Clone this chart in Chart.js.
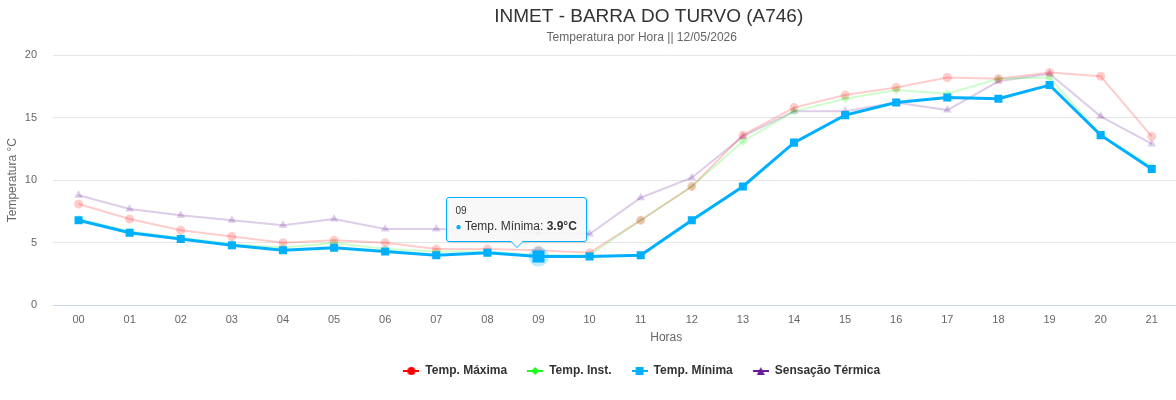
<!DOCTYPE html>
<html>
<head>
<meta charset="utf-8">
<script src="https://cdn.jsdelivr.net/npm/chart.js@4"></script>
<style>
    body { margin: 0; background: #fff; overflow: hidden; }
    #wrap { position: relative; width: 1176px; height: 400px; overflow: hidden; }
    #inner { position: relative; width: 1288px; height: 400px; }
    #tip {
        position: absolute;
        display: none;
        background: rgba(247, 247, 247, 0.9);
        border: 1px solid #00b0ff;
        border-radius: 3px;
        padding: 7px 9px 8px 8px;
        font-family: 'Liberation Sans', Arial, sans-serif;
        color: #333;
        white-space: nowrap;
        box-shadow: 1px 1px 2px rgba(0,0,0,0.12);
        pointer-events: none;
    }
    #tip .head { font-size: 10px; margin-bottom: 3px; }
    #tip .body { font-size: 12px; }
    #tip .dot { color: #00b0ff; font-size: 10px; }
    #tip::before, #tip::after {
        content: '';
        position: absolute;
        left: 50%;
        border-style: solid;
        border-color: transparent;
    }
    #tip::before { bottom: -7px; margin-left: -7px; border-width: 7px 7px 0 7px; border-top-color: #00b0ff; }
    #tip::after { bottom: -6px; margin-left: -6px; border-width: 6px 6px 0 6px; border-top-color: #f7f7f7; }
</style>
</head>
<body>
<div id="wrap">
  <div id="inner">
    <canvas id="tempChart"></canvas>
    <div id="tip"></div>
  </div>
</div>
<script>
// o eixo vai de 00 a 23, os dados só até 21
const horas = ['00','01','02','03','04','05','06','07','08','09','10','11','12','13','14','15','16','17','18','19','20','21','22','23'];
const tempMaxima = [8.1, 6.9, 6.0, 5.5, 5.0, 5.2, 5.0, 4.5, 4.5, 4.4, 4.2, 6.8, 9.5, 13.6, 15.8, 16.8, 17.4, 18.2, 18.1, 18.6, 18.3, 13.5];
const tempInst = [6.9, 5.9, 5.4, 4.9, 4.6, 5.0, 4.5, 4.3, 4.3, 4.0, 4.0, 6.8, 9.5, 13.1, 15.5, 16.5, 17.2, 16.9, 18.1, 18.2, 13.6, 11.1];
const tempMinima = [6.8, 5.8, 5.3, 4.8, 4.4, 4.6, 4.3, 4.0, 4.2, 3.9, 3.9, 4.0, 6.8, 9.5, 13.0, 15.2, 16.2, 16.6, 16.5, 17.6, 13.6, 10.9];
const sensacao = [8.8, 7.7, 7.2, 6.8, 6.4, 6.9, 6.1, 6.1, 6.0, 5.8, 5.7, 8.6, 10.2, 13.5, 15.5, 15.5, 16.2, 15.6, 17.9, 18.5, 15.1, 12.9];
const yTicks = [0, 5, 10, 15, 20];

const FONT = "'Liberation Sans', Arial, sans-serif";

// pequeno ícone de legenda: linha com marcador no meio
function legendIcon(color, style) {
    const c = document.createElement('canvas');
    c.width = 16; c.height = 12;
    const ctx = c.getContext('2d');
    ctx.strokeStyle = color;
    ctx.fillStyle = color;
    ctx.lineWidth = 2;
    ctx.beginPath(); ctx.moveTo(0, 6); ctx.lineTo(16, 6); ctx.stroke();
    ctx.beginPath();
    if (style === 'circle') ctx.arc(8, 6, 4, 0, Math.PI * 2);
    if (style === 'diamond') { ctx.moveTo(8, 2); ctx.lineTo(12, 6); ctx.lineTo(8, 10); ctx.lineTo(4, 6); ctx.closePath(); }
    if (style === 'square') ctx.rect(4, 2, 8, 8);
    if (style === 'triangle') { ctx.moveTo(8, 2); ctx.lineTo(12, 10); ctx.lineTo(4, 10); ctx.closePath(); }
    ctx.fill();
    return c;
}

const legendItems = [
    { text: 'Temp. Máxima', icon: legendIcon('#ff0000', 'circle') },
    { text: 'Temp. Inst.', icon: legendIcon('#1aff1a', 'diamond') },
    { text: 'Temp. Mínima', icon: legendIcon('#00b0ff', 'square') },
    { text: 'Sensação Térmica', icon: legendIcon('#6a1b9a', 'triangle') }
];

const haloPlugin = {
    id: 'halo',
    beforeDatasetDraw(chart, args) {
        if (args.index !== 2) return;
        const ctx = chart.ctx;
        chart.getActiveElements().forEach(a => {
            if (a.datasetIndex !== 2) return;
            ctx.save();
            ctx.fillStyle = 'rgba(0, 176, 255, 0.25)';
            ctx.beginPath();
            ctx.arc(a.element.x, a.element.y, 10, 0, Math.PI * 2);
            ctx.fill();
            ctx.restore();
        });
    }
};

// o título principal fica um pouco à direita do subtítulo no original
const titleShift = {
    id: 'titleShift',
    afterLayout(chart) {
        if (chart.titleBlock) {
            chart.titleBlock.left += 7;
            chart.titleBlock.right += 7;
        }
    }
};

function externalTip(context) {
    const tip = document.getElementById('tip');
    const t = context.tooltip;
    if (!t || t.opacity === 0 || !t.dataPoints || !t.dataPoints.length) {
        tip.style.display = 'none';
        return;
    }
    const dp = t.dataPoints[0];
    tip.innerHTML = `
        <div class="head">${dp.label}</div>
        <div class="body"><span class="dot">●</span> ${dp.dataset.label}: <b>${dp.parsed.y.toFixed(1)}°C</b></div>
    `;
    tip.style.display = 'block';
    const w = tip.offsetWidth, h = tip.offsetHeight;
    const tipX = t.caretX - 22;
    const tipY = t.caretY - 9;
    tip.style.left = (tipX - w / 2) + 'px';
    tip.style.top = (tipY - 6 - h) + 'px';
}

const chart = new Chart(document.getElementById('tempChart').getContext('2d'), {
    type: 'line',
    data: {
        labels: horas,
        datasets: [
            {
                label: 'Temp. Máxima', data: tempMaxima, order: 1,
                borderColor: 'rgba(255, 0, 0, 0.2)', backgroundColor: 'rgba(255, 0, 0, 0.2)',
                borderWidth: 2, pointStyle: 'circle', pointRadius: 4.5, pointBorderWidth: 0
            },
            {
                label: 'Temp. Inst.', data: tempInst, order: 2,
                borderColor: 'rgba(26, 255, 26, 0.22)', backgroundColor: 'rgba(26, 255, 26, 0.22)',
                borderWidth: 2, pointStyle: 'rectRot', pointRadius: 4.5, pointBorderWidth: 0
            },
            {
                label: 'Temp. Mínima', data: tempMinima, order: 0,
                borderColor: '#00b0ff', backgroundColor: '#00b0ff',
                borderWidth: 3, pointStyle: 'rect', pointRadius: 5.7, pointBorderWidth: 0,
                pointHoverRadius: 8.5, pointHoverBorderWidth: 0, pointHoverBackgroundColor: '#00b0ff'
            },
            {
                label: 'Sensação Térmica', data: sensacao, order: 3,
                borderColor: 'rgba(106, 27, 154, 0.22)', backgroundColor: 'rgba(106, 27, 154, 0.22)',
                borderWidth: 2, pointStyle: 'triangle', pointRadius: 5, pointBorderWidth: 0
            }
        ]
    },
    options: {
        responsive: true,
        maintainAspectRatio: false,
        animation: false,
        events: [],
        layout: { padding: { left: 0, right: 4.5, top: 0, bottom: 13 } },
        plugins: {
            title: {
                display: true,
                text: 'INMET - BARRA DO TURVO (A746)',
                color: '#333333',
                font: { family: FONT, size: 19, weight: 'normal' },
                padding: { top: 5, bottom: 0 }
            },
            subtitle: {
                display: true,
                text: 'Temperatura por Hora || 12/05/2026',
                color: '#666666',
                font: { family: FONT, size: 12 },
                padding: { top: 3, bottom: 9.8 }
            },
            legend: {
                position: 'bottom',
                labels: {
                    usePointStyle: true,
                    pointStyleWidth: 16,
                    padding: 20,
                    color: '#333333',
                    font: { family: FONT, size: 12, weight: 'bold' },
                    generateLabels: () => legendItems.map((it, i) => ({
                        text: it.text,
                        pointStyle: it.icon,
                        fontColor: '#333333',
                        lineWidth: 0,
                        strokeStyle: 'transparent',
                        fillStyle: 'transparent',
                        datasetIndex: i
                    }))
                }
            },
            tooltip: {
                enabled: false,
                external: externalTip
            }
        },
        scales: {
            x: {
                offset: true,
                grid: { display: false, drawTicks: true, tickLength: 4 },
                border: { display: true, color: '#ccd6eb' },
                ticks: { color: '#666666', font: { family: FONT, size: 11 }, padding: 4 },
                title: { display: true, text: 'Horas', color: '#666666', font: { family: FONT, size: 12 }, padding: { top: 0, bottom: 0 } }
            },
            y: {
                min: 0,
                max: 20,
                afterBuildTicks: axis => { axis.ticks = yTicks.map(v => ({ value: v })); },
                afterFit: axis => { axis.width = 53; },
                grid: { color: '#e6e6e6', drawTicks: false },
                border: { display: false },
                ticks: { color: '#666666', font: { family: FONT, size: 11 }, padding: 16 },
                title: { display: true, text: 'Temperatura °C', color: '#666666', font: { family: FONT, size: 12 }, padding: { top: 5, bottom: 0 } }
            }
        }
    },
    plugins: [haloPlugin, titleShift]
});

const active = [{ datasetIndex: 2, index: 9 }];
chart.setActiveElements(active);
const el = chart.getDatasetMeta(2).data[9];
chart.tooltip.setActiveElements(active, { x: el.x, y: el.y });
chart.update('none');
</script>
</body>
</html>
